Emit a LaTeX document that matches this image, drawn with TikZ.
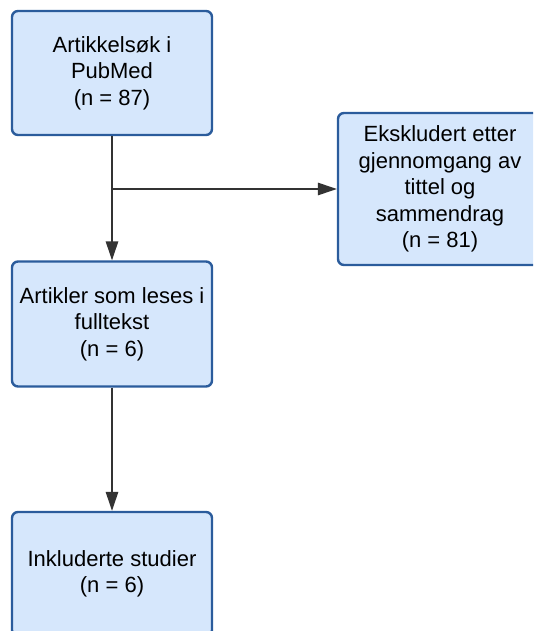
\documentclass[tikz,border=0pt]{standalone}
\usepackage{fontspec}
\setmainfont{Liberation Sans}
\usetikzlibrary{arrows.meta}
\definecolor{boxfill}{HTML}{D6E7FC}
\definecolor{boxdraw}{HTML}{2B5C9C}
\definecolor{linecol}{HTML}{333333}
\begin{document}
\begin{tikzpicture}[x=1pt,y=-1pt,
  flowbox/.style={draw=boxdraw, fill=boxfill, line width=2.4pt, rounded corners=6pt,
    minimum width=200pt, align=center, inner sep=0pt,
    font=\fontsize{22pt}{26.5pt}\selectfont},
  conn/.style={draw=linecol, line width=1.4pt, -{Triangle[length=19pt,width=12.5pt]}}]
\useasboundingbox (0,0) rectangle (533,631);
\clip (0,0) rectangle (533,631);
\node[flowbox, minimum height=124pt] (search) at (112,73) {Artikkelsøk i\\PubMed\\(n = 87)};
\node[flowbox, minimum height=152pt, minimum width=204pt] (excl) at (440,189) {Ekskludert etter\\gjennomgang av\\tittel og\\sammendrag\\(n = 81)};
\node[flowbox, minimum height=125pt] (full) at (112,324) {Artikler som leses i\\fulltekst\\(n = 6)};
\node[flowbox, minimum height=124pt] (incl) at (112,574) {Inkluderte studier\\(n = 6)};
\coordinate (branch) at (112,189);
\draw[conn] (search.south) -- (full.north);
\draw[conn] (branch) -- (excl.west);
\draw[conn] (full.south) -- (incl.north);
\end{tikzpicture}
\end{document}
